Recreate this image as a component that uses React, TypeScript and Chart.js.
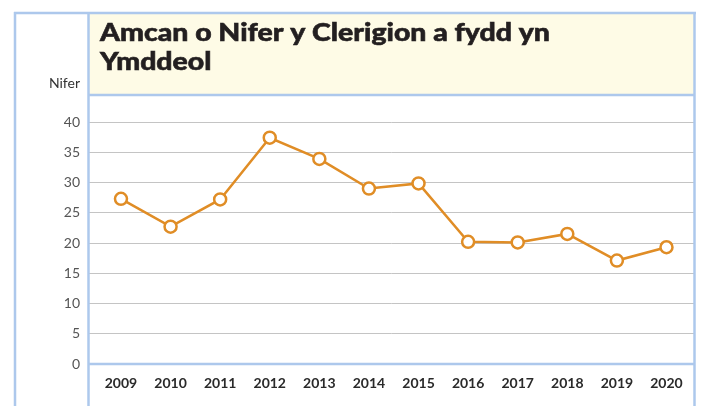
import React, { useEffect, useRef } from "react";
import { Chart, registerables } from "chart.js";

Chart.register(...registerables);

const years = ["2009", "2010", "2011", "2012", "2013", "2014", "2015", "2016", "2017", "2018", "2019", "2020"];
const values = [27.3, 22.7, 27.2, 37.4, 33.9, 29.0, 29.85, 20.2, 20.1, 21.5, 17.1, 19.3];
const yTicks = [0, 5, 10, 15, 20, 25, 30, 35, 40];
const titleLines = ["Amcan o Nifer y Clerigion a fydd yn", "Ymddeol"];
const yAxisLabel = "Nifer";

const FRAME = "#adc8ec";
const CREAM = "#fefbe6";
const ORANGE = "#e08d26";

const framePlugin = {
  id: "frame",
  beforeDraw(chart: any) {
    const ctx = chart.ctx;
    ctx.save();
    ctx.fillStyle = "#ffffff";
    ctx.fillRect(0, 0, chart.width, chart.height);
    ctx.fillStyle = CREAM;
    ctx.fillRect(88, 12, 607, 83);
    ctx.restore();
  },
  afterDraw(chart: any) {
    const ctx = chart.ctx;
    const area = chart.chartArea;
    ctx.save();
    ctx.strokeStyle = FRAME;
    ctx.lineWidth = 2.5;
    const line = (x1: number, y1: number, x2: number, y2: number) => {
      ctx.beginPath();
      ctx.moveTo(x1, y1);
      ctx.lineTo(x2, y2);
      ctx.stroke();
    };
    line(14, 13, 696, 13);
    line(15, 12, 15, 406);
    line(88.5, 12, 88.5, 406);
    line(694.5, 12, 694.5, 406);
    line(88, 95, 695, 95);
    line(88, area.bottom, 695, area.bottom);

    // title
    ctx.fillStyle = "#231f20";
    ctx.font = "900 25px Lato";
    ctx.textBaseline = "alphabetic";
    ctx.textAlign = "left";
    const w = ctx.measureText(titleLines[0]).width;
    const sx = 450 / w;
    ctx.lineWidth = 0.6;
    ctx.strokeStyle = "#231f20";
    titleLines.forEach((t, i) => {
      ctx.save();
      ctx.translate(100, 41 + i * 29);
      ctx.scale(sx, 1);
      ctx.fillText(t, 0, 0);
      ctx.strokeText(t, 0, 0);
      ctx.restore();
    });

    // axis label
    ctx.font = "14px Lato";
    ctx.fillStyle = "#333333";
    ctx.textAlign = "right";
    ctx.fillText(yAxisLabel, 80, 88);
    ctx.restore();
  },
};

export default function App() {
  const ref = useRef<HTMLCanvasElement>(null);
  useEffect(() => {
    if (!ref.current) return;
    const chart = new Chart(ref.current, {
      type: "line",
      data: {
        datasets: [
          {
            data: values.map((v, i) => ({ x: i, y: v })),
            borderColor: ORANGE,
            borderWidth: 2.5,
            pointBackgroundColor: "#ffffff",
            pointBorderColor: ORANGE,
            pointBorderWidth: 2.5,
            pointRadius: 6,
            tension: 0,
          },
        ],
      },
      options: {
        animation: false,
        responsive: false,
        maintainAspectRatio: false,
        layout: { padding: { left: 0, right: 8, top: 122, bottom: 0 } },
        plugins: { legend: { display: false }, tooltip: { enabled: false }, title: { display: false } },
        scales: {
          x: {
            type: "linear",
            min: -0.665,
            max: 11.565,
            afterFit: (s: any) => {
              s.height = 42;
            },
            afterBuildTicks: (s: any) => {
              s.ticks = years.map((_, i) => ({ value: i }));
            },
            ticks: {
              autoSkip: false,
              maxRotation: 0,
              padding: 11,
              color: "#2a2a2a",
              font: { family: "Lato", size: 14, weight: "bold" },
              callback: (v: any) => years[v as number] ?? "",
            },
            grid: { display: false, drawTicks: false },
            border: { display: false },
          },
          y: {
            min: 0,
            max: 40,
            afterFit: (s: any) => {
              s.width = 88;
            },
            afterBuildTicks: (s: any) => {
              s.ticks = yTicks.map((v) => ({ value: v }));
            },
            ticks: {
              padding: 8,
              color: "#555555",
              font: { family: "Lato", size: 14 },
            },
            grid: { color: "#c4c4c4", lineWidth: 1, drawTicks: false },
            border: { display: false },
          },
        },
      },
      plugins: [framePlugin],
    });
    return () => chart.destroy();
  }, []);
  return (
    <div style={{ position: "fixed", left: 0, top: 0, width: 703, height: 406 }}>
      <canvas ref={ref} width={703} height={406} style={{ width: 703, height: 406 }} />
    </div>
  );
}
